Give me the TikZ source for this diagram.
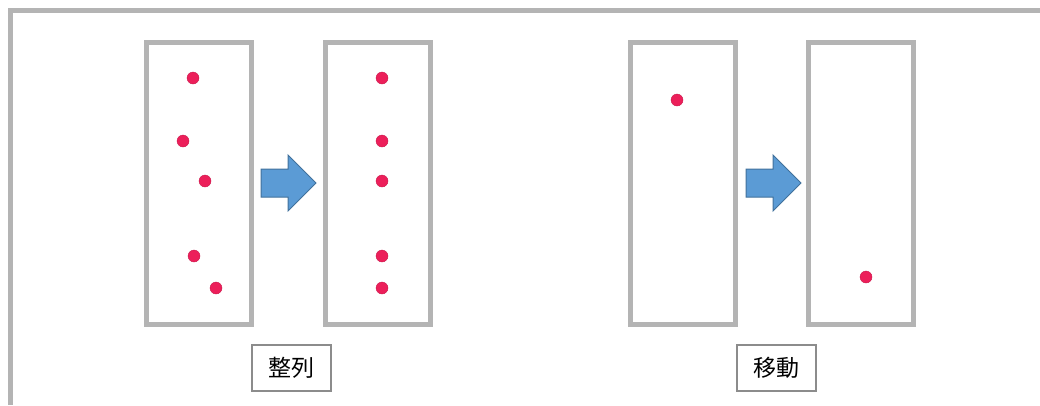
\documentclass[tikz,border=0pt]{standalone}
\usepackage{fontspec}
\newfontfamily\cjk{Noto Sans CJK JP}
\definecolor{framegray}{HTML}{B4B4B4}
\definecolor{dotred}{HTML}{EC1F5A}
\definecolor{arrowfill}{HTML}{5B9BD5}
\definecolor{arrowline}{HTML}{41719C}
\definecolor{labelgray}{HTML}{8C8C8C}
\tikzset{
  panel/.style={draw=framegray, line width=5pt, rectangle, minimum width=105pt, minimum height=282pt, inner sep=0pt},
  pt/.style={circle, fill=dotred, draw=dotred!85!black, line width=0.4pt, minimum size=12pt, inner sep=0pt},
  blockarrow/.style={fill=arrowfill, draw=arrowline, line width=1pt, line join=miter},
  caption/.style={draw=labelgray, line width=1.2pt, minimum width=79pt, minimum height=46pt, inner sep=0pt, font=\cjk\fontsize{23}{26}\selectfont}
}
\begin{document}
\begin{tikzpicture}[x=1pt,y=-1pt]
\useasboundingbox (0,0) rectangle (1040,405);
% outer frame
\coordinate (fTR) at (1040,10);
\coordinate (fTL) at (10,10);
\coordinate (fBL) at (10,405);
\draw[framegray, line width=5pt] (fTR) -- (fTL) -- (fBL);
% panels
\node[panel] (b1) at (199,183.5) {};
\node[panel] (b2) at (378,183.5) {};
\node[panel] (b3) at (683,183.5) {};
\node[panel] (b4) at (861,183.5) {};
% dots
\node[pt] (d11) at (193,78) {};
\node[pt] (d12) at (183,141) {};
\node[pt] (d13) at (205,181) {};
\node[pt] (d14) at (194,256) {};
\node[pt] (d15) at (216,288) {};
\node[pt] (d21) at (382,78) {};
\node[pt] (d22) at (382,141) {};
\node[pt] (d23) at (382,181) {};
\node[pt] (d24) at (382,256) {};
\node[pt] (d25) at (382,288) {};
\node[pt] (d31) at (677,100) {};
\node[pt] (d41) at (866,277) {};
% arrows
\draw[blockarrow] (261,169) -- (288,169) -- (288,155) -- (316,183) -- (288,211) -- (288,197) -- (261,197) -- cycle;
\draw[blockarrow] (746,169) -- (773,169) -- (773,155) -- (801,183) -- (773,211) -- (773,197) -- (746,197) -- cycle;
% captions
\node[caption] (c1) at (291.5,368) {整列};
\node[caption] (c2) at (776.5,368) {移動};
\end{tikzpicture}
\end{document}
